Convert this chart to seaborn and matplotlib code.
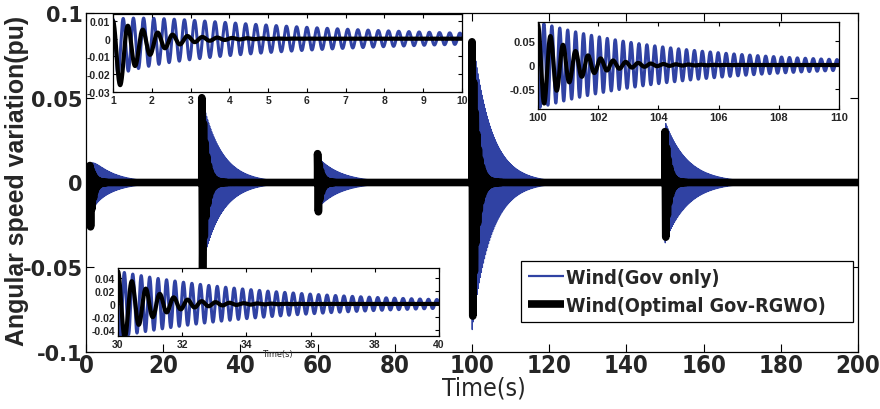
import numpy as np
import pandas as pd
import matplotlib
matplotlib.use("Agg")
import matplotlib.pyplot as plt
import seaborn as sns
from matplotlib import font_manager
from matplotlib.font_manager import FontProperties
from matplotlib.ticker import FixedLocator, FuncFormatter

# ---------------- data ----------------
# disturbance events (s)
event_time = [1.0, 30.0, 60.0, 100.0, 150.0]
# Wind (Gov only): oscillation amplitude (pu), decay time (s), frequency (Hz), phase (deg)
gov_amp = [0.016, 0.050, 0.015, 0.088, 0.036]
gov_tau = [5.5, 5.0, 6.0, 4.8, 5.8]
gov_freq = [3.8, 3.8, 3.8, 3.8, 3.8]
gov_phase = [0, 90, 90, 90, 90]
gov_offset = [-0.005, 0.0, 0.0, 0.0, 0.0]
gov_offset_tau = [1.0, 1.0, 1.0, 1.0, 1.0]
# Wind (Optimal Gov-RGWO)
opt_amp = [0.022, 0.058, 0.020, 0.090, 0.036]
opt_tau = [0.8, 1.0, 0.8, 1.1, 0.9]
opt_freq = [2.6, 2.3, 2.4, 2.4, 2.4]
opt_phase = [0, 0, 0, 0, 0]
opt_offset = [-0.012, -0.008, -0.003, -0.007, -0.006]
opt_offset_tau = [0.6, 0.4, 0.4, 0.4, 0.4]

labels = ["Wind(Gov only)", "Wind(Optimal Gov-RGWO)"]
main_xticks = [0, 20, 40, 60, 80, 100, 120, 140, 160, 180, 200]
main_yticks = [-0.1, -0.05, 0, 0.05, 0.1]
inset1_xticks = [1, 2, 3, 4, 5, 6, 7, 8, 9, 10]
inset1_yticks = [-0.03, -0.02, -0.01, 0, 0.01]
inset2_xticks = [100, 102, 104, 106, 108, 110]
inset2_yticks = [-0.05, 0, 0.05]
inset3_xticks = [30, 32, 34, 36, 38, 40]
inset3_yticks = [-0.04, -0.02, 0, 0.02, 0.04]

BLUE = "#3042A3"
BLACK = "#000000"


def response(t, amp, tau, freq, phase, off, off_tau):
    y = np.zeros_like(t)
    for t0, a, ta, f, ph, o, ot in zip(event_time, amp, tau, freq, phase, off, off_tau):
        m = t >= t0
        dt = t[m] - t0
        y[m] += a * np.exp(-dt / ta) * np.cos(2 * np.pi * f * dt + np.deg2rad(ph)) + o * np.exp(-dt / ot)
    return y


def series(t0, t1, step):
    t = np.arange(t0, t1 + step / 2, step)
    g = response(t, gov_amp, gov_tau, gov_freq, gov_phase, gov_offset, gov_offset_tau)
    o = response(t, opt_amp, opt_tau, opt_freq, opt_phase, opt_offset, opt_offset_tau)
    return pd.DataFrame({"t": t, "gov": g, "opt": o})


# ---- look for a condensed / narrow sans font (file based) ----
def find_condensed(bold):
    best = None
    for f in font_manager.fontManager.ttflist:
        fn = f.fname.lower()
        nm = f.name.lower()
        cond = ("narrow" in fn or "condensed" in fn or "narrow" in nm or "condensed" in nm
                or str(f.stretch) in ("condensed", "semi-condensed", "extra-condensed"))
        if not cond or "mono" in fn or ("serif" in nm and "sans" not in nm):
            continue
        if "italic" in fn or "oblique" in fn or f.style != "normal":
            continue
        w = f.weight if isinstance(f.weight, int) else (700 if "bold" in str(f.weight) else 400)
        if bold and w < 600:
            continue
        if not bold and w >= 600:
            continue
        if "semi" in fn or "extra" in fn or "light" in fn or "black" in fn or "medium" in fn:
            continue
        score = 0
        if "liberation" in fn:
            score = 3
        elif "arial" in fn:
            score = 2
        elif "dejavu" in fn:
            score = 1
        if best is None or score > best[0]:
            best = (score, f.fname)
    return best[1] if best else None


COND_B = find_condensed(True)
COND_R = find_condensed(False)


def fp(bold, size, condensed):
    if condensed:
        path = COND_B if bold else COND_R
        if path:
            return FontProperties(fname=path, size=size)
    return FontProperties(family="Liberation Sans", weight="bold" if bold else "normal", size=size)


sns.set_theme(style="white")
plt.rcParams["font.family"] = ["Liberation Sans", "DejaVu Sans"]
plt.rcParams["axes.linewidth"] = 0.9

fig = plt.figure(figsize=(8.8, 4.1), dpi=100)
W, H = 880, 410
renderer = fig.canvas.get_renderer()


def fit(text, prop, target_px, max_pt):
    """font size (pt) so that `text` is target_px wide, capped at max_pt."""
    t = fig.text(0, 0, text, fontproperties=prop)
    w = t.get_window_extent(renderer).width
    t.remove()
    size = prop.get_size_in_points() * target_px / w
    p = prop.copy()
    p.set_size(min(size, max_pt))
    return p


XT_PROP = fit("200", fp(True, 20, True), 45, 22)
XL_PROP = fit("Time(s)", fp(False, 20, True), 84, 21)
LEG_PROP = fit(labels[1], fp(True, 18, True), 259, 18)
YL_PROP = fit("Angular speed variation(pu)", fp(True, 18, False), 330, 18.5)


def ax_at(x0, y0, x1, y1):
    return fig.add_axes([x0 / W, 1 - y1 / H, (x1 - x0) / W, (y1 - y0) / H])


def style(ax, length, pad):
    ax.set_facecolor("white")
    for s in ax.spines.values():
        s.set_color("black")
        s.set_linewidth(0.9)
        s.set_visible(True)
    ax.tick_params(direction="in", top=True, right=True, length=length, width=0.8,
                   color="black", pad=pad, bottom=True, left=True)


fmt = FuncFormatter(lambda v, p: f"{v:g}")

# ---------------- main axes ----------------
ax = ax_at(86, 14, 858, 353)
df = series(0, 200, 0.004)
sns.lineplot(data=df, x="t", y="gov", ax=ax, color=BLUE, lw=0.9, estimator=None,
             sort=False, errorbar=None, label=labels[0])
sns.lineplot(data=df, x="t", y="opt", ax=ax, color=BLACK, lw=5.5, estimator=None,
             sort=False, errorbar=None, label=labels[1])
for ln in ax.lines:
    ln.set_solid_capstyle("round")
    ln.set_solid_joinstyle("round")
ax.set_xlim(0, 200)
ax.set_ylim(-0.1, 0.1)
style(ax, 6, 3)
ax.xaxis.set_major_locator(FixedLocator(main_xticks))
ax.yaxis.set_major_locator(FixedLocator(main_yticks))
ax.xaxis.set_major_formatter(fmt)
ax.yaxis.set_major_formatter(fmt)
for lab in ax.get_xticklabels():
    lab.set_fontproperties(XT_PROP)
for lab in ax.get_yticklabels():
    lab.set_fontfamily("DejaVu Sans")
    lab.set_fontweight("bold")
    lab.set_fontsize(15)
ax.tick_params(axis="x", pad=0.5)
ax.tick_params(axis="y", pad=2.5)
ax.set_xlabel("Time(s)", fontproperties=XL_PROP)
ax.xaxis.set_label_coords(0.5155, -0.068)
ax.set_ylabel("Angular speed variation(pu)", fontproperties=YL_PROP, va="center")
ax.yaxis.set_label_coords(-0.0894, 0.507)

lpx = LEG_PROP.get_size_in_points() * 100 / 72
leg = ax.legend(loc="upper left", bbox_to_anchor=(521 / W, 1 - 262 / H, 332 / W, 0),
                bbox_transform=fig.transFigure, mode="expand", borderaxespad=0,
                frameon=True, fancybox=False, framealpha=1, edgecolor="black",
                prop=LEG_PROP, handlelength=36 / lpx, handletextpad=2 / lpx,
                borderpad=7 / lpx, labelspacing=max(0.05, (32 - 1.17 * lpx) / lpx))
leg.get_frame().set_linewidth(0.9)
for h in leg.legend_handles:
    h.set_solid_capstyle("butt")
leg.legend_handles[0].set_linewidth(1.6)


# ---------------- insets ----------------
def inset(box, rng, ylim, xt, yt, fs):
    a = ax_at(*box)
    d = series(rng[0], rng[1], 0.002)
    sns.lineplot(data=d, x="t", y="gov", ax=a, color=BLUE, lw=2.2, estimator=None,
                 sort=False, errorbar=None)
    sns.lineplot(data=d, x="t", y="opt", ax=a, color=BLACK, lw=3.0, estimator=None,
                 sort=False, errorbar=None)
    a.set_xlim(*rng)
    a.set_ylim(*ylim)
    style(a, 3, 2)
    a.xaxis.set_major_locator(FixedLocator(xt))
    a.yaxis.set_major_locator(FixedLocator(yt))
    a.xaxis.set_major_formatter(fmt)
    a.yaxis.set_major_formatter(fmt)
    for lab in a.get_xticklabels() + a.get_yticklabels():
        lab.set_fontweight("bold")
        lab.set_fontsize(fs)
    a.set_xlabel("")
    a.set_ylabel("")
    return a


in1 = inset((113, 15, 462, 93), (1, 10), (-0.03, 0.0139), inset1_xticks, inset1_yticks, 7.5)
in2 = inset((538, 23, 839, 110), (100, 110), (-0.09, 0.088), inset2_xticks, inset2_yticks, 8)
in3 = inset((118, 269, 439, 337), (30, 40), (-0.049, 0.055), inset3_xticks, inset3_yticks, 7.5)
in3.set_xlabel("Time(s)", fontproperties=fp(False, 6.5, True), labelpad=0)

fig.savefig("out.png", dpi=100)
